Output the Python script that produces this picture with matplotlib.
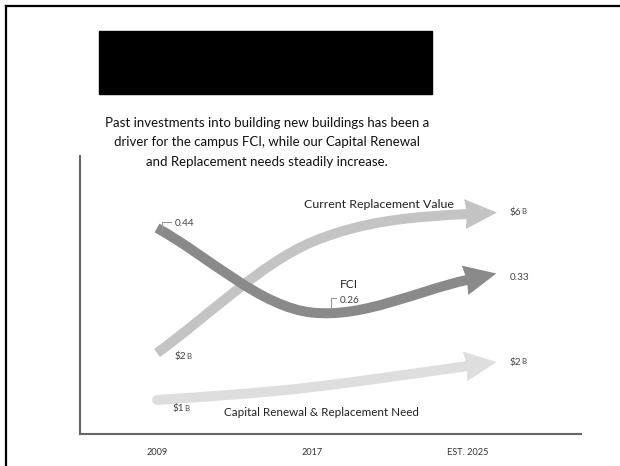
import matplotlib
matplotlib.use("Agg")
import matplotlib.pyplot as plt
from matplotlib.path import Path
from matplotlib.patches import PathPatch, Polygon, Rectangle
from matplotlib.lines import Line2D

plt.rcParams["font.family"] = ["Lato", "DejaVu Sans"]

YEARS = [2009, 2017, 2025]
YEAR_LABELS = ["2009", "2017", "EST. 2025"]

CRV_VALUES = [2.0, 5.2, 6.0]     # current replacement value, $B
FCI_VALUES = [0.44, 0.26, 0.33]  # facility condition index
CRR_VALUES = [1.0, 1.38, 2.0]    # capital renewal & replacement need, $B

CAPTION = ["Past investments into building new buildings has been a",
           "driver for the campus FCI, while our Capital Renewal",
           "and Replacement needs steadily increase."]

W, H, DPI = 620, 466, 100
PPY = 155.5 / 8          # pixels per year on the x axis


def fx(px):
    return px / W


def fy(py):
    return 1 - py / H


def smooth_path(xs, ys, slopes):
    # piecewise cubic through the points with the given slopes (data units)
    verts, codes = [(xs[0], ys[0])], [Path.MOVETO]
    for i in range(len(xs) - 1):
        h = (xs[i + 1] - xs[i]) / 3
        verts += [(xs[i] + h, ys[i] + slopes[i] * h),
                  (xs[i + 1] - h, ys[i + 1] - slopes[i + 1] * h),
                  (xs[i + 1], ys[i + 1])]
        codes += [Path.CURVE4] * 3
    return Path(verts, codes)


def draw_arrow(ax, values, offset, gain, slopes_px, color, cap, width=10):
    ys = [offset + gain * v for v in values]
    slopes = [s * PPY for s in slopes_px]
    ax.add_patch(PathPatch(smooth_path(YEARS, ys, slopes), fill=False,
                           edgecolor=color, lw=width * 0.72, capstyle=cap,
                           joinstyle="round", clip_on=False, zorder=2))
    # arrow head, built in pixel units along the end tangent
    ex, ey = YEARS[-1], ys[-1]
    m = slopes_px[-1]
    n = (1 + m * m) ** 0.5
    ux, uy = 1 / n, m / n
    pts = []
    for u, v in [(29, 0), (-3, 15), (-1, 0), (-3, -15)]:
        dx = u * ux - v * uy
        dy = u * uy + v * ux
        pts.append((ex + dx / PPY, ey + dy))
    ax.add_patch(Polygon(pts, closed=True, facecolor=color, edgecolor="none",
                         clip_on=False, zorder=2))
    return ys


def money(ax, xy, num, dx, dy):
    t = ax.annotate("$" + num, xy=xy, xytext=(dx * 0.72, dy * 0.72),
                    textcoords="offset points", fontsize=7.2, color="#444444",
                    ha="left", va="center")
    ax.annotate("B", xy=(1, 0.22), xycoords=t, fontsize=5.6, color="#444444",
                ha="left", va="bottom")


def value(ax, xy, txt, dx, dy, leader=None):
    ax.annotate(txt, xy=xy, xytext=(dx * 0.72, dy * 0.72),
                textcoords="offset points", fontsize=7.2, color="#444444",
                ha="left", va="center")
    if leader:
        x0, y0, y1, x1 = leader
        lx = [xy[0] + x0 / PPY, xy[0] + x0 / PPY, xy[0] + x1 / PPY]
        ly = [xy[1] + y0, xy[1] + y1, xy[1] + y1]
        ax.plot(lx, ly, color="#999999", lw=0.8, clip_on=False, zorder=3)


fig = plt.figure(figsize=(W / DPI, H / DPI), dpi=DPI)

# slide frame and title block
fig.add_artist(Line2D([fx(6), fx(6)], [0, fy(6)], color="black", lw=1.6))
fig.add_artist(Line2D([fx(6), 1], [fy(6), fy(6)], color="black", lw=1.6))
fig.add_artist(Rectangle((fx(99), fy(94)), fx(333), (94 - 31) / H,
                         transform=fig.transFigure, color="black"))
for i, line in enumerate(CAPTION):
    fig.text(fx(267), fy(123 + 19.5 * i), line, ha="center", va="center",
             fontsize=9.5, color="#111111")

ax = fig.add_axes([fx(80), (H - 434) / H, 501 / W, 278 / H])
ax.set_xlim(2009 - 77 / PPY, 2009 + (501 - 77) / PPY)
ax.set_ylim(0, 278)
for s in ("top", "right"):
    ax.spines[s].set_visible(False)
for s in ("left", "bottom"):
    ax.spines[s].set_color("#666666")
    ax.spines[s].set_linewidth(1.5)
ax.set_yticks([])
ax.set_xticks(YEARS, YEAR_LABELS)
ax.tick_params(axis="x", length=0, pad=10, labelsize=6.6, labelcolor="#333333")

crr = draw_arrow(ax, CRR_VALUES, 0, 34, (0.07, 0.12, 0.14), "#dedede", "round")
crv = draw_arrow(ax, CRV_VALUES, 11.5, 34.75, (0.72, 0.42, 0.05), "#c4c4c4", "butt")
fci = draw_arrow(ax, FCI_VALUES, -0.8, 470, (-0.55, -0.1, 0.22), "#8a8a8a", "butt")

# end-point labels
money(ax, (YEARS[0], crv[0]), "2", 18, -4)
money(ax, (YEARS[-1], crv[-1]), "6", 42, 2)
money(ax, (YEARS[0], crr[0]), "1", 16, -9)
money(ax, (YEARS[-1], crr[-1]), "2", 42, 4)
value(ax, (YEARS[0], fci[0]), f"{FCI_VALUES[0]:.2f}", 18, 5, leader=(5, -3, 6.5, 14))
value(ax, (YEARS[1], fci[1]), f"{FCI_VALUES[1]:.2f}", 27, 12, leader=(18, 4, 15, 23))
value(ax, (YEARS[-1], fci[-1]), f"{FCI_VALUES[-1]:.2f}", 42, 2)

# series names
ax.annotate("Current Replacement Value", xy=(YEARS[1], crv[1]), xytext=(-8 * 0.72, 37 * 0.72),
            textcoords="offset points", fontsize=8.9, color="#222222", ha="left", va="center")
ax.annotate("FCI", xy=(YEARS[1], fci[1]), xytext=(36 * 0.72, 28 * 0.72),
            textcoords="offset points", fontsize=8.6, color="#222222", ha="center", va="center")
ax.annotate("Capital Renewal & Replacement Need", xy=(YEARS[1], crr[1]), xytext=(9 * 0.72, -25 * 0.72),
            textcoords="offset points", fontsize=8.4, color="#222222", ha="center", va="center")

fig.savefig("out.png", dpi=DPI)
